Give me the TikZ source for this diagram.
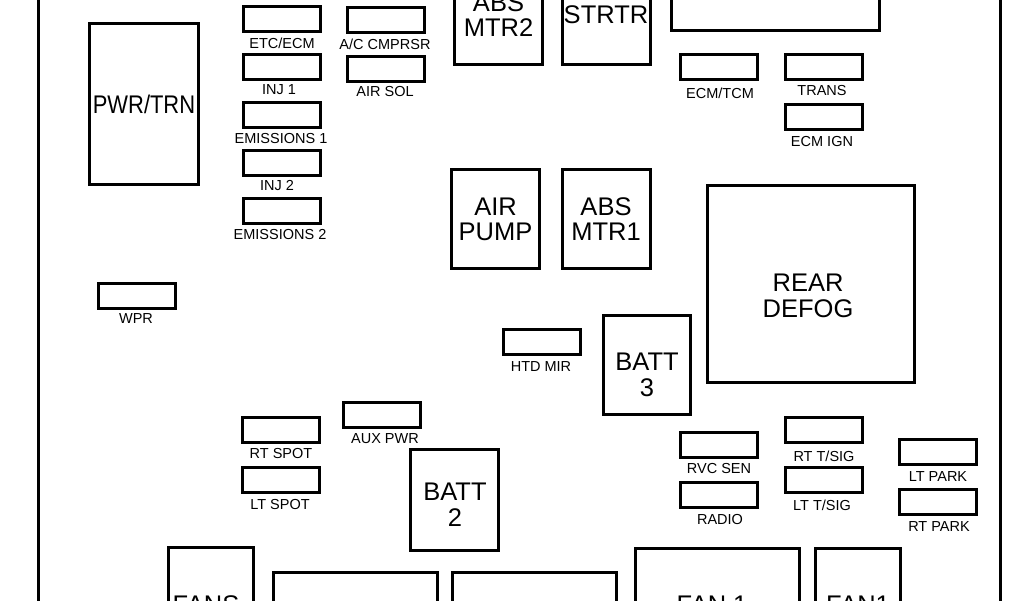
\documentclass[tikz,border=0pt]{standalone}
\usepackage{fontspec}
\setmainfont{Liberation Sans}
\newfontfamily\narrowfont[FakeStretch=0.86]{Liberation Sans}
\usetikzlibrary{positioning}
\tikzset{
    fuse/.style={draw=black, line width=3pt, minimum width=77pt, minimum height=25pt, inner sep=0pt},
    relay/.style={draw=black, line width=3pt, minimum width=88pt, minimum height=99pt, inner sep=0pt, align=center, font=\fontsize{25.5}{25}\selectfont},
    relaytext/.style={inner sep=0pt, align=center, font=\fontsize{25.5}{26}\selectfont},
    fuselabel/.style={inner sep=0pt, font=\fontsize{14.5}{16}\selectfont}
}

\begin{document}
\begin{tikzpicture}[x=1pt, y=-1pt]
    \useasboundingbox (0,0) rectangle (1024,600);
    \clip (0,0) rectangle (1024,600);

    % Outer walls of the box
    \coordinate (walltl) at (38,-5);
    \coordinate (wallbl) at (38,605);
    \coordinate (walltr) at (1000,-5);
    \coordinate (wallbr) at (1000,605);
    \draw[line width=3pt] (walltl) -- (wallbl);
    \draw[line width=3pt] (walltr) -- (wallbr);

    % Left column
    \node[relay, minimum width=109pt, minimum height=161pt] (pwrtrn) at (144,104) {\narrowfont PWR/TRN};

    \node[fuse] (etcecm) at (282,18.5) {};
    \node[fuselabel] (etcecmlabel) at (282,43) {ETC/ECM};
    \node[fuse] (inja) at (282,67) {};
    \node[fuselabel] (injalabel) at (279,90) {INJ 1};
    \node[fuse] (emissionsa) at (282,114.5) {};
    \node[fuselabel] (emissionsalabel) at (281,139) {EMISSIONS 1};
    \node[fuse] (injb) at (282,163) {};
    \node[fuselabel] (injblabel) at (277,186) {INJ 2};
    \node[fuse] (emissionsb) at (282,211) {};
    \node[fuselabel] (emissionsblabel) at (280,235) {EMISSIONS 2};

    \node[fuse] (accmprsr) at (386,20) {};
    \node[fuselabel] (accmprsrlabel) at (385,44) {A/C CMPRSR};
    \node[fuse] (airsol) at (386,69) {};
    \node[fuselabel] (airsollabel) at (385,92) {AIR SOL};

    \node[fuse] (wpr) at (137,296) {};
    \node[fuselabel] (wprlabel) at (136,319) {WPR};

    % Top relays, cut by the page
    \node[relay] (absmtrb) at (498.5,15) {ABS\\MTR2};
    \node[relay] (strtr) at (606,15) {STRTR};
    \node[relay, minimum width=208pt, minimum height=97pt] (maxi) at (775.5,-18) {};

    \node[fuse] (ecmtcm) at (718.5,67) {};
    \node[fuselabel] (ecmtcmlabel) at (720,93) {ECM/TCM};
    \node[fuse] (trans) at (824,67) {};
    \node[fuselabel] (translabel) at (822,91) {TRANS};
    \node[fuse] (ecmign) at (824,117) {};
    \node[fuselabel] (ecmignlabel) at (822,142) {ECM IGN};

    % Middle relays
    \node[relay] (airpump) at (495.5,219) {AIR\\PUMP};
    \node[relay] (absmtra) at (606,219) {ABS\\MTR1};
    \node[relay, minimum width=207pt, minimum height=197pt] (reardefog) at (811,284) {};
    \node[relaytext] (reardefoglabel) at (808,296) {REAR\\DEFOG};
    \node[fuse] (htdmir) at (541.5,342) {};
    \node[fuselabel] (htdmirlabel) at (541,367) {HTD MIR};
    \node[relay, minimum width=87pt] (batta) at (647,365) {};
    \node[relaytext] (battalabel) at (647,375) {BATT\\3};

    % Lower left
    \node[fuse] (auxpwr) at (382,415) {};
    \node[fuselabel] (auxpwrlabel) at (385,439) {AUX PWR};
    \node[fuse] (rtspot) at (281,430) {};
    \node[fuselabel] (rtspotlabel) at (281,453) {RT SPOT};
    \node[fuse] (ltspot) at (281,480) {};
    \node[fuselabel] (ltspotlabel) at (280,504) {LT SPOT};
    \node[relay, minimum height=101pt] (battb) at (454.5,500) {};
    \node[relaytext] (battblabel) at (455,505) {BATT\\2};

    % Lower right
    \node[fuse] (rvcsen) at (719,445) {};
    \node[fuselabel] (rvcsenlabel) at (719,468) {RVC SEN};
    \node[fuse] (radio) at (719,495) {};
    \node[fuselabel] (radiolabel) at (720,519) {RADIO};
    \node[fuse] (rttsig) at (823.5,430) {};
    \node[fuselabel] (rttsiglabel) at (824,456) {RT T/SIG};
    \node[fuse] (lttsig) at (823.5,480) {};
    \node[fuselabel] (lttsiglabel) at (822,505) {LT T/SIG};
    \node[fuse] (ltpark) at (938,452) {};
    \node[fuselabel] (ltparklabel) at (938,477) {LT PARK};
    \node[fuse] (rtpark) at (938,502) {};
    \node[fuselabel] (rtparklabel) at (939,527) {RT PARK};

    % Bottom row, cut by the page
    \node[relay, minimum width=85pt, minimum height=103pt] (fanb) at (211,599) {};
    \node[relaytext] (fanblabel) at (206,605) {FANS};
    \node[relay, minimum width=164pt, minimum height=101pt] (maxb) at (355.5,623) {};
    \node[relay, minimum width=164pt, minimum height=101pt] (maxc) at (534.5,623) {};
    \node[relay, minimum width=164pt, minimum height=103pt] (fana) at (717.5,600) {};
    \node[relaytext] (fanalabel) at (712,605) {FAN 1};
    \node[relay, minimum width=85pt, minimum height=103pt] (fanc) at (858,600) {};
    \node[relaytext] (fanclabel) at (858,605) {FAN1};
\end{tikzpicture}
\end{document}
